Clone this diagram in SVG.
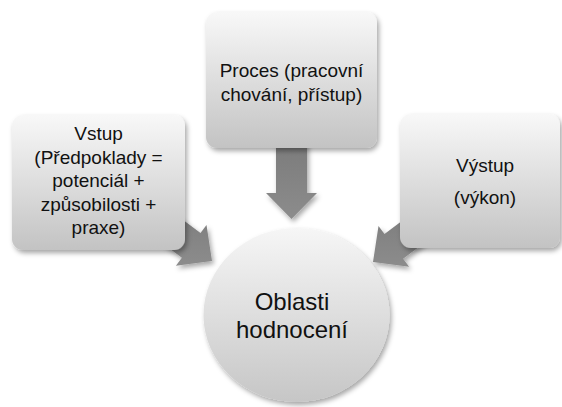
<svg xmlns="http://www.w3.org/2000/svg" width="562" height="407" viewBox="0 0 562 407">
  <defs>
    <linearGradient id="boxFill" x1="0" y1="0" x2="0" y2="1">
      <stop offset="0" stop-color="#f8f8f8"/>
      <stop offset="1" stop-color="#c3c3c3"/>
    </linearGradient>
    <linearGradient id="circleFill" x1="0" y1="0" x2="0" y2="1">
      <stop offset="0" stop-color="#f6f6f6"/>
      <stop offset="1" stop-color="#c6c6c6"/>
    </linearGradient>
    <linearGradient id="arrowFill" x1="0" y1="0" x2="0" y2="1">
      <stop offset="0" stop-color="#7b7b7b"/>
      <stop offset="1" stop-color="#8c8c8c"/>
    </linearGradient>
    <filter id="shadow" x="-20%" y="-20%" width="140%" height="140%">
      <feDropShadow dx="2" dy="3" stdDeviation="2.5" flood-color="#000" flood-opacity="0.35"/>
    </filter>
  </defs>
  <style>
    .box { fill: url(#boxFill); filter: url(#shadow); }
    .hub { fill: url(#circleFill); filter: url(#shadow); }
    .arrow { fill: url(#arrowFill); filter: url(#shadow); }
    .label { font-family: "Liberation Sans", Arial, sans-serif; font-size: 19px; fill: #111; text-anchor: middle; }
    .hub-label { font-family: "Liberation Sans", Arial, sans-serif; font-size: 24px; fill: #111; text-anchor: middle; }
  </style>

  <!-- block arrows pointing at the central circle -->
  <g id="connectors">
    <polygon class="arrow" points="276,140 307,140 307,193 317,193 291.5,219 266,193 276,193"/>
    <polygon class="arrow" points="160.5,203 200.5,233 206.5,225 212,261 175.9,265.8 181.9,257.8 141.9,227.8"/>
    <polygon class="arrow" points="424.5,204 384.5,234 378.5,226 373,262 409.1,266.8 403.1,258.8 443.1,228.8"/>
  </g>

  <g id="node-vstup">
    <rect class="box" x="12" y="115" width="173" height="135" rx="11"/>
    <text class="label" x="98.5" y="140">Vstup</text>
    <text class="label" x="98.5" y="163.5">(Předpoklady =</text>
    <text class="label" x="98.5" y="187">potenciál +</text>
    <text class="label" x="98.5" y="210.5">způsobilosti +</text>
    <text class="label" x="98.5" y="234">praxe)</text>
  </g>

  <g id="node-proces">
    <rect class="box" x="206" y="12" width="171" height="136" rx="11"/>
    <text class="label" x="291.5" y="77">Proces (pracovní</text>
    <text class="label" x="291.5" y="100.5">chování, přístup)</text>
  </g>

  <g id="node-vystup">
    <rect class="box" x="400" y="114" width="160" height="134" rx="11"/>
    <text class="label" x="485" y="172">Výstup</text>
    <text class="label" x="485" y="204">(výkon)</text>
  </g>

  <g id="node-oblasti">
    <ellipse class="hub" cx="296.5" cy="315" rx="93" ry="87"/>
    <text class="hub-label" x="292" y="310">Oblasti</text>
    <text class="hub-label" x="292" y="338">hodnocení</text>
  </g>
</svg>
